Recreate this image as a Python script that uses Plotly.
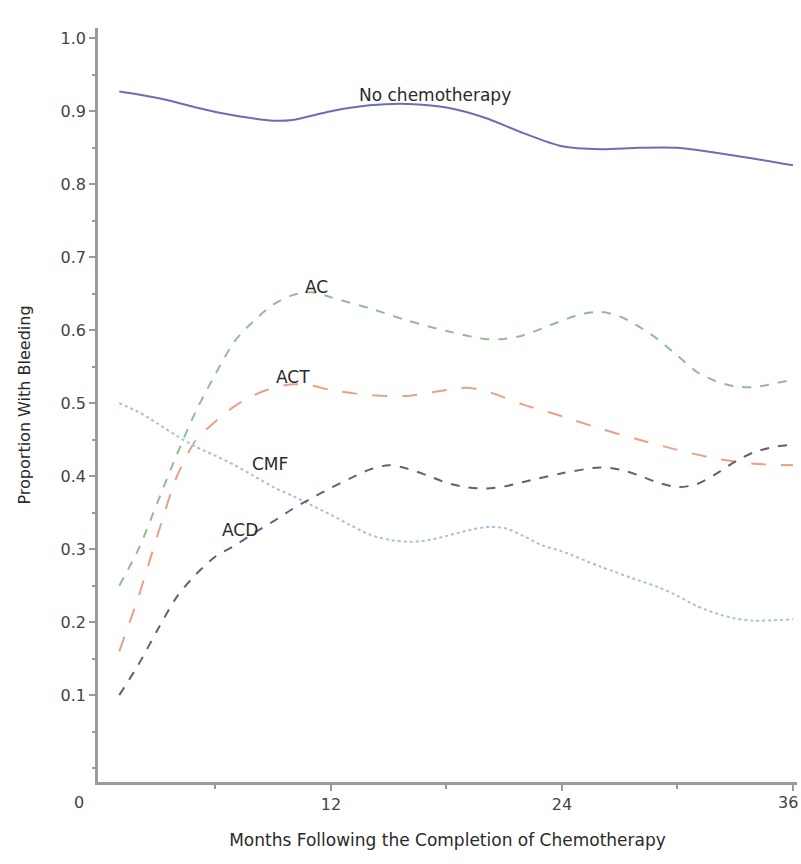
import plotly.graph_objects as go

months_nochemo = [1, 2, 3, 4, 5, 6, 8, 9, 10, 12, 14, 16, 18, 20, 22, 24, 26, 28, 30, 32, 34, 36]
nochemo = [0.927, 0.923, 0.918, 0.912, 0.905, 0.899, 0.890, 0.887, 0.888, 0.900, 0.908, 0.910, 0.905,
           0.891, 0.870, 0.852, 0.848, 0.850, 0.850, 0.843, 0.835, 0.826]

months_ac = [1, 2, 3, 4, 5, 6, 7, 8, 9, 10, 11, 12, 14, 16, 18, 20, 21, 22, 24, 25, 26, 27, 28, 29, 30,
             31, 32, 33, 34, 35, 36]
ac = [0.25, 0.30, 0.365, 0.43, 0.49, 0.54, 0.585, 0.613, 0.635, 0.648, 0.652, 0.645, 0.630, 0.613,
      0.599, 0.588, 0.588, 0.593, 0.613, 0.622, 0.625, 0.619, 0.605, 0.587, 0.565, 0.543, 0.530, 0.523,
      0.522, 0.527, 0.532]

months_act = [1, 2, 3, 4, 5, 6, 7, 8, 9, 10, 11, 12, 14, 16, 18, 19, 20, 22, 24, 26, 28, 30, 32, 34, 36]
act = [0.16, 0.235, 0.32, 0.40, 0.45, 0.475, 0.496, 0.511, 0.521, 0.526, 0.524, 0.518, 0.511, 0.510,
       0.518, 0.521, 0.517, 0.498, 0.482, 0.465, 0.450, 0.436, 0.424, 0.417, 0.415]

months_cmf = [1, 2, 3, 4, 5, 6, 7, 8, 9, 10, 11, 12, 13, 14, 15, 16, 17, 18, 19, 20, 21, 22, 23, 24,
              26, 28, 29, 30, 31, 32, 33, 34, 36]
cmf = [0.50, 0.488, 0.472, 0.455, 0.44, 0.428, 0.415, 0.40, 0.385, 0.373, 0.36, 0.347, 0.333, 0.32,
       0.313, 0.31, 0.312, 0.318, 0.325, 0.33, 0.329, 0.318, 0.305, 0.297, 0.276, 0.257, 0.248, 0.236,
       0.222, 0.212, 0.205, 0.202, 0.204]

months_acd = [1, 2, 3, 4, 5, 6, 7, 8, 9, 10, 11, 12, 13, 14, 15, 16, 17, 18, 19, 20, 21, 22, 24, 26,
              27, 28, 29, 30, 31, 32, 33, 34, 35, 36]
acd = [0.10, 0.142, 0.19, 0.235, 0.266, 0.29, 0.305, 0.322, 0.338, 0.355, 0.37, 0.384, 0.397, 0.409,
       0.415, 0.41, 0.401, 0.391, 0.385, 0.383, 0.386, 0.392, 0.404, 0.412, 0.409, 0.401, 0.391, 0.385,
       0.389, 0.403, 0.42, 0.433, 0.44, 0.443]

series = [
    ("No chemotherapy", months_nochemo, nochemo, "#6a6fb2", "solid"),
    ("AC", months_ac, ac, "#92bd92", "dash"),
    ("ACT", months_act, act, "#eaa084", "longdash"),
    ("CMF", months_cmf, cmf, "#a4c2df", "dot"),
    ("ACD", months_acd, acd, "#6e5a7a", "dash"),
]

labels = [
    ("No chemotherapy", 17.4, 0.922),
    ("AC", 11.27, 0.659),
    ("ACT", 10.03, 0.536),
    ("CMF", 8.83, 0.416),
    ("ACD", 7.27, 0.326),
]

x_ticks = [12, 24, 36]
x_ticktext = ["12", "24", ""]   # the "36" label is placed below so it stays inside the page
last_tick_label = "36"
y_ticks = [0.1, 0.2, 0.3, 0.4, 0.5, 0.6, 0.7, 0.8, 0.9, 1.0]

FONT = "DejaVu Sans, Liberation Sans, Arial"

fig = go.Figure()
for name, xs, ys, color, dash in series:
    fig.add_trace(go.Scatter(x=xs, y=ys, mode="lines", name=name,
                             line=dict(color=color, width=2, dash=dash, shape="spline", smoothing=0.8)))

for text, lx, ly in labels:
    fig.add_annotation(x=lx, y=ly, text=text, showarrow=False, xref="x", yref="y",
                       font=dict(family=FONT, size=17, color="#2a2a2a"))

fig.add_annotation(x=(79 - 98) / 699, y=-(802 - 782) / 754, text="0", showarrow=False,
                   xref="paper", yref="paper", xanchor="center", yanchor="middle",
                   font=dict(family=FONT, size=16, color="#444"))

fig.add_annotation(x=(800 - 98) / 699, y=-(802 - 782) / 754, text=last_tick_label, showarrow=False,
                   xref="paper", yref="paper", xanchor="right", yanchor="middle",
                   font=dict(family=FONT, size=16, color="#444"))

axis_common = dict(showline=True, linecolor="#9a9a9a", linewidth=2.5, ticks="outside",
                   tickcolor="#9a9a9a", ticklen=6, tickwidth=1.5, showgrid=False, zeroline=False,
                   automargin=False,
                   tickfont=dict(family=FONT, size=16, color="#444"))

fig.update_layout(
    width=801, height=864,
    margin=dict(l=98, r=4, t=28, b=82),
    paper_bgcolor="white", plot_bgcolor="white",
    showlegend=False,
    xaxis=dict(range=[-0.104, 36.21], tickvals=x_ticks, ticktext=x_ticktext,
               minor=dict(tickvals=[6, 18, 30], ticks="outside", ticklen=4, tickcolor="#9a9a9a"),
               title=dict(text="Months Following the Completion of Chemotherapy", standoff=22,
                          font=dict(family=FONT, size=17, color="#2a2a2a")),
               **axis_common),
    yaxis=dict(range=[-0.019, 1.014], tickvals=y_ticks, ticktext=[f"{v:.1f}" for v in y_ticks],
               minor=dict(dtick=0.05, tick0=0, ticks="outside", ticklen=3, tickcolor="#9a9a9a"),
               title=dict(text="Proportion With Bleeding", standoff=26,
                          font=dict(family=FONT, size=16, color="#2a2a2a")),
               **axis_common),
)

fig.write_html("out.html")
